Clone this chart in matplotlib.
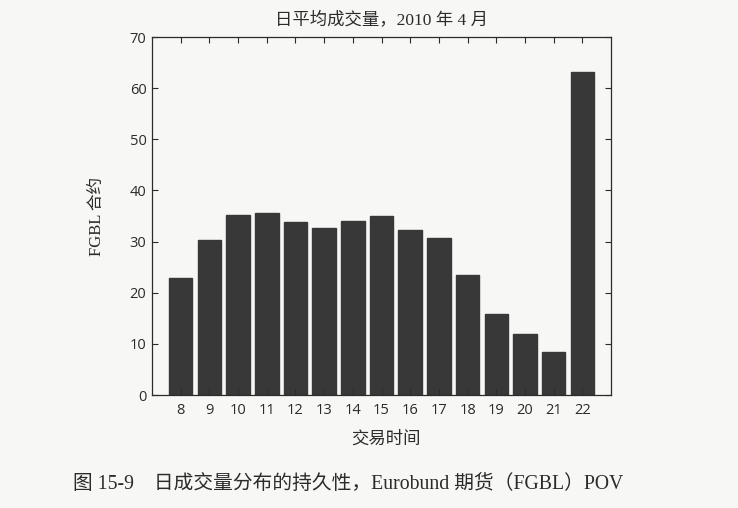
import matplotlib
matplotlib.use("Agg")
import matplotlib.pyplot as plt

# average daily volume by trading hour, April 2010
hours = [8, 9, 10, 11, 12, 13, 14, 15, 16, 17, 18, 19, 20, 21, 22]
volume = [22.9, 30.3, 35.3, 35.6, 33.9, 32.6, 34.0, 35.0, 32.3, 30.8,
          23.5, 15.9, 11.9, 8.4, 63.2]
y_ticks = [0, 10, 20, 30, 40, 50, 60, 70]

title = "日平均成交量，2010 年 4 月"
x_label = "交易时间"
y_label = "FGBL 合约"
caption = "图 15-9    日成交量分布的持久性，Eurobund 期货（FGBL）POV"

SERIF = ["Liberation Serif", "Noto Sans CJK SC", "DejaVu Sans"]
SANS = ["Open Sans", "DejaVu Sans"]
PAPER = "#f7f7f5"
INK = "#2b2b2b"

fig = plt.figure(figsize=(7.38, 5.08), dpi=100, facecolor=PAPER)
ax = fig.add_axes([0.206, 0.2224, 0.622, 0.7046])
ax.set_facecolor(PAPER)

ax.bar(hours, volume, width=0.82, color="#383838", edgecolor="#383838")

ax.set_xlim(7, 23)
ax.set_ylim(0, 70)
ax.set_xticks(hours)
ax.set_yticks(y_ticks)
ax.tick_params(direction="in", length=4, width=0.8, top=True, right=True,
               colors=INK, labelsize=10.5)
for lab in ax.get_xticklabels() + ax.get_yticklabels():
    lab.set_family(SANS)
ax.tick_params(axis="x", pad=6)
ax.tick_params(axis="y", pad=4)
for sp in ax.spines.values():
    sp.set_color(INK)
    sp.set_linewidth(0.9)

fig.text(0.517, 0.959, title, ha="center", va="center", fontsize=12.5,
         family=SERIF, color=INK)
fig.text(0.132, 0.573, y_label, ha="center", va="center", rotation=90,
         fontsize=12, family=SERIF, color=INK)
fig.text(0.523, 0.134, x_label, ha="center", va="center", fontsize=12.5,
         family=SERIF, color=INK)
fig.text(0.099, 0.047, caption, ha="left", va="center", fontsize=14.2,
         family=SERIF, color=INK)

fig.savefig("out.png", dpi=100, facecolor=PAPER)
